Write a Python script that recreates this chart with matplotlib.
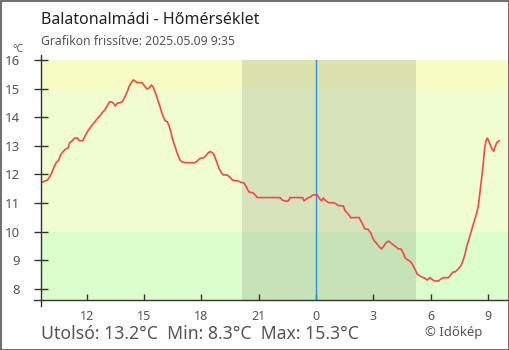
import matplotlib
matplotlib.use("Agg")
import matplotlib.pyplot as plt
from matplotlib.patches import Rectangle

plt.rcParams['font.family'] = ['Noto Sans', 'DejaVu Sans']

# Hours relative to midnight (negative = previous day)
hours = [-14.37, -14.19, -14.05, -13.93, -13.81, -13.70, -13.58, -13.46, -13.37, -13.23,
         -13.11, -12.97, -12.88, -12.75, -12.62, -12.48, -12.38, -12.20, -12.10, -11.96,
         -11.84, -11.70, -11.57, -11.44, -11.30, -11.18, -11.05, -10.93, -10.81, -10.71,
         -10.60, -10.50, -10.39, -10.21, -10.09, -9.99, -9.88, -9.78, -9.66, -9.56,
         -9.45, -9.35, -9.10, -8.96, -8.85, -8.75, -8.61, -8.51, -8.42, -8.33,
         -8.25, -8.16, -8.07, -7.99, -7.90, -7.78, -7.67, -7.58, -7.52, -7.44,
         -7.36, -7.29, -7.20, -7.11, -7.01, -6.85, -6.59, -6.33, -6.21, -6.07,
         -5.89, -5.77, -5.66, -5.54, -5.44, -5.33, -5.23, -5.14, -5.06, -4.95,
         -4.85, -4.64, -4.50, -4.36, -4.12, -3.94, -3.77, -3.66, -3.59, -3.49,
         -3.31, -3.19, -3.07, -2.76, -2.41, -1.88, -1.76, -1.62, -1.45, -1.36,
         -1.10, -0.70, -0.63, -0.52, -0.40, -0.31, -0.17, -0.05, 0.07, 0.16,
         0.28, 0.38, 0.52, 0.66, 0.94, 1.05, 1.17, 1.43, 1.52, 1.64,
         1.74, 1.81, 2.04, 2.26, 2.34, 2.44, 2.55, 2.72, 2.86, 2.94,
         3.05, 3.17, 3.31, 3.42, 3.52, 3.66, 3.80, 3.91, 4.04, 4.18,
         4.30, 4.45, 4.57, 4.65, 4.80, 4.95, 5.06, 5.18, 5.30, 5.44,
         5.58, 5.70, 5.82, 5.96, 6.08, 6.17, 6.40, 6.52, 6.66, 6.92,
         7.04, 7.15, 7.29, 7.43, 7.57, 7.67, 7.78, 7.88, 7.99, 8.09,
         8.20, 8.30, 8.40, 8.49, 8.58, 8.67, 8.75, 8.82, 8.89, 8.96,
         9.05, 9.14, 9.22, 9.29, 9.36, 9.45, 9.53, 9.58]

temps = [11.71, 11.77, 11.80, 11.92, 12.07, 12.27, 12.42, 12.50, 12.67, 12.80,
         12.88, 12.93, 13.11, 13.18, 13.27, 13.27, 13.18, 13.18, 13.32, 13.49,
         13.61, 13.73, 13.84, 13.95, 14.05, 14.16, 14.25, 14.39, 14.53, 14.54,
         14.49, 14.40, 14.49, 14.51, 14.58, 14.72, 14.88, 15.07, 15.21, 15.30,
         15.26, 15.21, 15.21, 15.09, 14.99, 15.01, 15.12, 15.05, 14.89, 14.72,
         14.54, 14.37, 14.16, 14.02, 13.88, 13.84, 13.67, 13.46, 13.26, 13.11,
         12.95, 12.80, 12.64, 12.50, 12.44, 12.41, 12.41, 12.41, 12.47, 12.56,
         12.58, 12.65, 12.74, 12.80, 12.77, 12.68, 12.50, 12.33, 12.19, 12.06,
         11.98, 11.98, 11.90, 11.80, 11.78, 11.73, 11.70, 11.59, 11.48, 11.38,
         11.36, 11.29, 11.19, 11.19, 11.19, 11.19, 11.10, 11.07, 11.07, 11.19,
         11.19, 11.19, 11.08, 11.13, 11.19, 11.20, 11.28, 11.29, 11.28, 11.17,
         11.08, 11.17, 11.08, 11.01, 11.01, 10.97, 10.91, 10.90, 10.73, 10.64,
         10.57, 10.49, 10.49, 10.49, 10.38, 10.26, 10.10, 10.08, 9.96, 9.82,
         9.68, 9.59, 9.47, 9.40, 9.47, 9.61, 9.67, 9.61, 9.54, 9.47,
         9.40, 9.39, 9.24, 9.09, 9.01, 8.95, 8.83, 8.68, 8.51, 8.45,
         8.40, 8.37, 8.31, 8.39, 8.33, 8.28, 8.27, 8.34, 8.39, 8.39,
         8.48, 8.58, 8.60, 8.69, 8.80, 8.95, 9.18, 9.47, 9.71, 9.94,
         10.20, 10.41, 10.64, 10.90, 11.40, 11.92, 12.39, 12.91, 13.18, 13.28,
         13.13, 12.99, 12.88, 12.80, 12.95, 13.11, 13.14, 13.18]

x_ticks = [-12, -9, -6, -3, 0, 3, 6, 9]
x_tick_labels = ["12", "15", "18", "21", "0", "3", "6", "9"]
y_ticks = [8, 9, 10, 11, 12, 13, 14, 15, 16]

sunset, sunrise = 20.13 - 24, 5.23
last_t, min_t, max_t = 13.2, 8.3, 15.3

W, H = 510, 350
fig = plt.figure(figsize=(W / 100, H / 100), dpi=100)
fig.patch.set_facecolor("white")

x0, x1 = 40.7, 509.3
ytop, ybot = 60, 300
ax = fig.add_axes([x0 / W, 1 - ybot / H, (x1 - x0) / W, (ybot - ytop) / H])
xmin, xmax = -14.40, 10.11
ymin, ymax = 7.61, 16.0
ax.set_xlim(xmin, xmax)
ax.set_ylim(ymin, ymax)

# temperature bands
ax.axhspan(15, ymax, color="#f6fcc3", lw=0, zorder=0)
ax.axhspan(10, 15, color="#f0fdd0", lw=0, zorder=0)
ax.axhspan(ymin, 10, color="#dcfdcc", lw=0, zorder=0)
# night shading
ax.axvspan(sunset, sunrise, color="black", alpha=0.1, lw=0, zorder=1)
# midnight marker
ax.axvline(0, color="#2b8fdc", lw=1.0, zorder=2)

ax.plot(hours, temps, color="#ff4444", lw=1.2, zorder=3, solid_joinstyle="miter")

for s in ax.spines.values():
    s.set_visible(False)
axis_col = "#333333"
ax.plot([0, 0], [-0.027, 1.02], transform=ax.transAxes, color=axis_col, lw=1.0,
        clip_on=False, zorder=4)
ax.plot([-0.0145, 1.0], [0, 0], transform=ax.transAxes, color=axis_col, lw=1.0,
        clip_on=False, zorder=4)

ax.set_xticks(x_ticks)
ax.set_xticklabels(x_tick_labels)
ax.set_yticks(y_ticks)
ax.tick_params(axis="y", direction="inout", length=9.4, width=1.0, color=axis_col,
               labelsize=9.5, labelcolor="#555555", pad=10)
ax.tick_params(axis="x", direction="in", length=4.3, width=1.0, color=axis_col,
               labelsize=9, labelcolor="#555555", pad=7)

def ftext(x, y, s, **kw):
    fig.text(x / W, 1 - y / H, s, **kw)

ftext(40.7, 24, "Balatonalmádi - Hőmérséklet", fontsize=11.5, color="#222222",
      va="baseline")
ftext(40.7, 44.7, "Grafikon frissítve: 2025.05.09 9:35", fontsize=8.8,
      color="#555555", va="baseline")
ftext(12.5, 54.5, "°C", fontsize=7.5, color="#555555", va="bottom")
ftext(40.7, 339.3,
      f"Utolsó: {last_t:.1f}°C  Min: {min_t:.1f}°C  Max: {max_t:.1f}°C",
      fontsize=12.7, color="#555555", va="baseline")
ftext(425, 336, "© Időkép", fontsize=9.5, color="#555555", va="baseline")

fig.patches.append(Rectangle((0.5 / W, 0.5 / H), (W - 1.5) / W, (H - 1.5) / H,
                             transform=fig.transFigure, fill=False,
                             edgecolor="#555555", lw=1.2))

fig.savefig("out.png", dpi=100)
